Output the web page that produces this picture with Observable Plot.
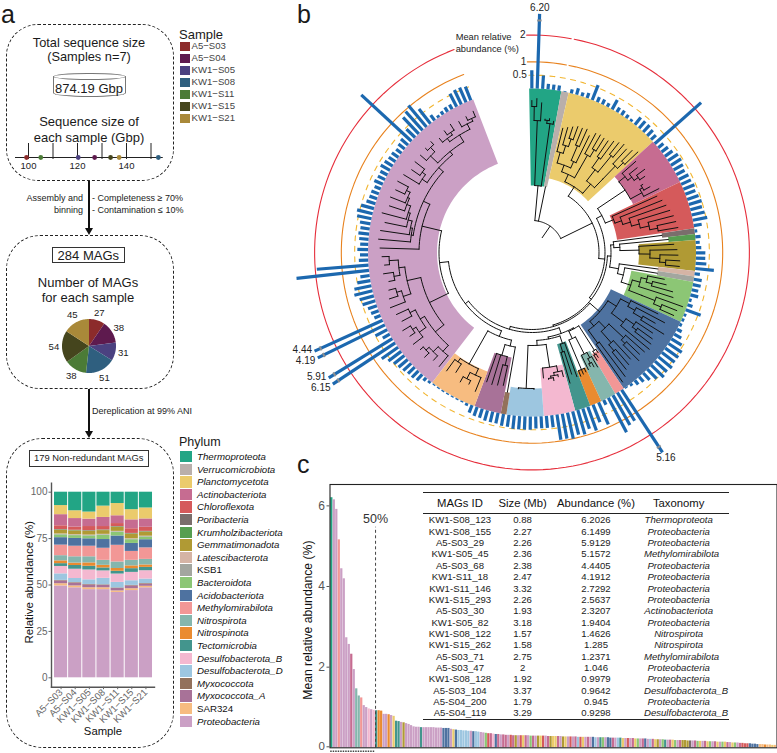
<!DOCTYPE html>
<html>
<head>
<meta charset="utf-8">
<script src="https://cdn.jsdelivr.net/npm/d3@7"></script>
<script src="https://cdn.jsdelivr.net/npm/@observablehq/plot@0.6"></script>
<style>
html,body{margin:0;padding:0;background:#fff}
#page{position:relative;width:777px;height:753px;overflow:hidden;font-family:"Liberation Sans",Arial,sans-serif;color:#1a1a1a}
.t{position:absolute;white-space:nowrap;line-height:1}
.box{position:absolute;box-sizing:border-box;border:1px dashed #222}
.sq{position:absolute}
#tbl{position:absolute;left:422.7px;top:491.7px;width:306.3px;border-collapse:collapse;table-layout:fixed;border-top:1.2px solid #222;border-bottom:1.2px solid #222;font-size:9.6px;color:#222}
#tbl th{font-weight:normal;font-size:11.3px;height:20.5px;padding:0;border-bottom:1.2px solid #222;text-align:center;color:#111}
#tbl td{height:11.36px;padding:0;text-align:center;line-height:11px}
#tbl td:nth-child(4){font-style:italic}
#tbl th:nth-child(4),#tbl td:nth-child(4){padding-right:15.6px}
</style>
</head>
<body>
<div id="page"></div>
<script>
// ---------- shared categories ----------
const samples = ["A5−S03","A5−S04","KW1−S05","KW1−S08","KW1−S11","KW1−S15","KW1−S21"];
const sampleColors = ["#8C2B2B","#5E1A4E","#4B4180","#2F5F7F","#4B7B36","#45451D","#A98939"];
const phyla = ["Thermoproteota","Verrucomicrobiota","Planctomycetota","Actinobacteriota","Chloroflexota","Poribacteria","Krumholzibacteriota","Gemmatimonadota","Latescibacterota","KSB1","Bacteroidota","Acidobacteriota","Methylomirabilota","Nitrospirota","Nitrospinota","Tectomicrobia","Desulfobacterota_B","Desulfobacterota_D","Myxococcota","Myxococcota_A","SAR324","Proteobacteria"];
const phylumCodes = ["Th","Ve","Pl","Ac","Ch","Po","Kr","Ge","La","KS","Ba","Ai","Me","Ns","Ni","Te","DB","DD","My","MA","SA","Pr"];
const phylumColors = ["#22A585","#B9AFAB","#EBCB6C","#C66C91","#D55A5B","#7A6E6C","#569E50","#B09A34","#D5B4A5","#A3A69F","#8CC675","#4E72A0","#F29796","#85B6AD","#EA8B30","#43958D","#F4B8D0","#9DC6E0","#93715B","#A87298","#F7BC80","#CBA0C5"];

// ---------- panel a ----------
const sequenceSize = [99.2,127,120.3,153,105,133.5,137];
const magCounts = [27,38,31,51,38,54,45];
const stackTh = [7.2,10,10.7,7.5,6.1,9.4,8.5];
const stackVe = [0,0,0,0,0,0,0];
const stackPl = [4.9,4.2,3.8,6.1,6.6,5.5,5.9];
const stackAc = [6,4.6,4,4.9,4.2,4.8,4.5];
const stackCh = [2,1.7,2.2,1.8,1.6,2.5,2.2];
const stackPo = [.2,.2,.2,.2,.2,.2,.2];
const stackKr = [.2,.2,.2,.2,.2,.2,.2];
const stackGe = [2,2,2,2,2.2,2.5,2.2];
const stackLa = [.2,.2,.2,.2,.2,.2,.2];
const stackKS = [.3,.3,.3,.3,.3,.3,.3];
const stackBa = [1.5,1.5,1.5,2.3,2,2,1.4];
const stackAi = [4,4.2,4,4.7,5,4.3,4.4];
const stackMe = [5.7,5.7,5.7,6.5,9,4.8,6.2];
const stackNs = [2.8,3.4,3.3,2.7,3.5,3,3];
const stackNi = [1.5,1.3,1.8,1.4,1.5,1.5,1.3];
const stackTe = [1.5,2,2,1.6,1.5,2,1.8];
const stackDB = [4,5,5.3,4,4.5,4.5,4.5];
const stackDD = [3.5,2.2,2.5,3.5,3,2.5,2.4];
const stackMy = [.3,.3,.3,.3,.3,.3,.3];
const stackMA = [1.5,1.5,1.5,1.3,1.3,1.5,1.2];
const stackSA = [1.2,1,1,1,.8,1,.8];
const stackPr = [49.5,48.5,47.5,47.5,46,47,48.5];
const stackRows = [stackTh,stackVe,stackPl,stackAc,stackCh,stackPo,stackKr,stackGe,stackLa,stackKS,stackBa,stackAi,stackMe,stackNs,stackNi,stackTe,stackDB,stackDD,stackMy,stackMA,stackSA,stackPr];

// ---------- panel b: clades in clockwise order ----------
const cladeStart = [-1,10.3,12.9,47.5,64.5,81.5,83.5,85.6,96.5,98.4,100.4,115,146,149.5,155,159.2,164.7,175.9,189,191,200.5,217.5];
const cladeEnd   = [10.3,12.9,47.5,64.5,81.5,83.5,85.6,96.5,98.4,100.4,115,146,149.5,155,159.2,164.7,175.9,189,191,200.5,217.5,339];
const cladeInner = [67,67,76,112,86,131,137,107,127,127,101,87,118,114,127,95,116,136,142,107,127,95];
const cladeBars = [
 [.68,6.2,.5,.2,.2,.2],
 [.03],
 [.15,.25,.15,.2,.6,.2,.2,.15,.4,.2,.2,.15,.1,.35,.35,.35,.3,.25],
 [2.32,.25,.3,.35,.45,.45,.4,.35,.4],
 [.4,.45,.4,.45,.5,.45,.5,.55,.3],
 [.1],
 [.2],
 [.15,.2,.35,.35,.4,.7],
 [.2],
 [.3],
 [.3,.25,.3,.1,.2,.6,.1,.1],
 [.1,.2,.3,.45,.6,.6,.6,.65,.6,.65,.5,.35,.25,.2,.1,.05],
 [5.16,1.24],
 [1.285,1.46,.2],
 [.9,.7],
 [.95,.8,.95],
 [.9,1,.95,.95,.45,.45],
 [.45,.45,.5,.5,.5,.5,.45],
 [.45],
 [.4,.4,.4,.35,.35],
 [.3,.1,.05,.05,.05,.05,.05,.05,.05],
 [.1,.15,.3,.35,.35,.4,.45,.5,.6,.75,6.15,5.91,.3,.5,4.19,4.44,.25,.3,.35,.5,.55,.7,.65,.5,.35,2.73,1.94,.35,.3,.4,.3,.35,.4,.35,.4,.55,.6,.5,.35,.3,.3,.25,.35,.3,.3,.4,.35,.3,.3,.25,.3,.35,2.56,.45,.85,.95,1.05,.7,.25,.1,.15,.2,.2,.55,.6,.6,.55]
];
const ringValues = [0.5,1,2];
const ringColors = ["#F2B632","#E8821E","#E62E3B"];
// tree: [node radius, ...children]; a plain number is a tip radius
const treeTh = [67,[132,[146,152,154],150],[130,[133,134,135],133]];
const treeVe = 67;
const treePl = [78,[86,[93,[104,128,[112,130,[120,132,134]]],[100,[116,134,135],130]],[96,[112,135,[120,136,135]]]],[90,[104,[116,135,138],[125,140,142]],[102,[120,140,[128,143,146]]]]];
const treeAc = [112,[120,138,[125,135,[130,140,136]]],[125,[128,130,135],142]];
const treeCh = [88,137,[95,140,[103,142,[111,144,[120,146,[128,147,148]]]]]];
const treePo = 131;
const treeKr = 137;
const treeGe = [107,142,[118,145,[128,146,[134,148,148]]]];
const treeLa = 127;
const treeKS = 127;
const treeBa = [104,[112,[118,135,[124,138,146]],148],[118,[132,160,[140,156,155]]]];
const treeAi = [90,[100,[110,140,[118,150,[128,142,155]]],[115,[125,145,[130,148,150]],152]],[96,[105,[125,150,[130,148,152]],[120,145,[128,148,150]]],[112,155,158]]];
const treeMe = [116,120,[120,124,126]];
const treeNs = [114,[120,132,[125,130,128]],130];
const treeNi = [127,131,132,133];
const treeTe = [96,132,[104,128,136]];
const treeDB = [116,[122,128,[125,127,[127,130,128]]],126];
const treeDD = [136,137,137];
const treeMy = 142;
const treeMA = [107,[116,136,137],138,137];
const treeSA = [128,[135,150,[142,146,148]],[132,142,146]];
const treePr = [93,
  [114,[125,[133,147,[140,146,[144,150,148]]],[130,[138,150,[142,148,151]],[136,147,149]]],[128,[136,152,[141,150,148]],[134,[140,146,150],[143,148,150]]]],
  [113,152,[120,[122,154,[124,153,[128,150,[130,155,[134,150,[136,152,[140,150,152]]]]]]],[126,[132,150,[136,146,148]],[130,[140,148,[146,149,150]],[138,[142,147,[145,150,152]],[144,150,[147,151,153]]]]]]]];
const cladeTrees = [treeTh,treeVe,treePl,treeAc,treeCh,treePo,treeKr,treeGe,treeLa,treeKS,treeBa,treeAi,treeMe,treeNs,treeNi,treeTe,treeDB,treeDD,treeMy,treeMA,treeSA,treePr];
const backbone = [32,"Th","Ve",[67,"Pl",[73,[79,"Ac","Ch"],[75.5,[79,[82,"Po",[88,"Kr","Ge"]],[88,"La",[94,"KS","Ba"]]],[77,"Ai",[80,[86,[87,"Me",[95,"Ns","Ni"]],[88,"Te",[93,"DB","DD"]]],[84,[90,[96,"My","MA"],"SA"],"Pr"]]]]]]];

// ---------- panel c ----------
const meanAbundance = [6.2026,6.1499,5.9129,5.1572,4.4405,4.1912,2.7292,2.5637,2.3207,1.9404,1.4626,1.285,1.2371,1.046,.9979,.9642,.945,.9298,
 .92,.92,.91,.83,.83,.82,.8,.78,.66,.65,.63,.62,.6,.58,.55,.52,.51,.51,.5,.5,.5,.5,.5,.5,.49,.49,.49,
 .48,.48,.48,.46,.45,.44,.43,.43,.42,.42,.41,.41,.4,.4,.39,.38,.37,.36,.35,.35,
 .34,.33,.33,.32,.32,.31,.31,.31,.3,.3,.3,.3,.3,.3,.3,.29,.29,.29,.29,.29,
 .29,.29,.28,.28,.28,.28,.28,.28,.27,.27,.27,.27,.27,.27,.26,.26,.26,.26,.26,.26,
 .26,.25,.25,.25,.25,.25,.25,.24,.24,.24,.24,.24,.23,.23,.23,.23,.23,.22,.22,.22,
 .22,.22,.21,.21,.21,.2,.2,.2,.2,.19,.19,.19,.19,.18,.18,.18,.18,.18,.17,.17,
 .17,.17,.16,.16,.16,.16,.15,.15,.15,.15,.14,.14,.14,.14,.13,.13,.12,.12,.12,.11,
 .11,.1,.1,.1,.09,.09,.08,.08,.08,.07,.07,.07,.06,.06];
const meanPhylum = ("Th Pr Pr Me Pr Pr Pr Pr Ac Pr Ns Ns Me Pr Pr DB Pr DB Te Ni "+
 "Ni Pr Pr Ni Pr Pl Te Te Pr Ge Pr Pr Pr Pr Pr Pr Te Pr Pr Pr "+
 "Pr Pr Pr Pr Pr Ai Ai Ai Pr Pl Ai DD DD DD DD DD Pr Ai DD DD "+
 "Pr Pr Ba Ch Ac DB Ai Ac Pr Ac Ac Pr Ch Ac Ge Pr Ch Pl Ac Pr "+
 "Ba Ac Pr Ge Pl Ch Pr Ac Ge Pl Pl Ac Pr Ge Pl Pr Ch Pr Ac DD "+
 "Ch Pl Pr Ac Pr Ai DD Pr Te Ba Pr Ai Ai Ac Pr DD Te Pl Pr Ch "+
 "Pr Ac Pl Ba Pr Ac Ai Pr DD Ac Pl Ge Pr Ba Te Pr Ac Pl Ba Pr "+
 "Ac Ge Ge Ge Po Pr Ac Ba Pl Pr Ac Pl Ba Pr Ac Pl Pr Ba Pl Ac "+
 "Pr Pl Ba Pr Ac Ch Ch Ch Ai Ai Ai Ai SA SA Ni SA SA Pl SA").split(" ");
const tableHeader = ["MAGs ID","Size (Mb)","Abundance (%)","Taxonomy"];
const tableIds = ["KW1-S08_123","KW1-S08_155","A5-S03_29","KW1-S05_45","A5-S03_68","KW1-S11_18","KW1-S11_146","KW1-S15_293","A5-S03_30","KW1-S05_82","KW1-S08_122","KW1-S15_262","A5-S03_71","A5-S03_47","KW1-S08_128","A5-S03_104","A5-S04_200","A5-S04_119"];
const tableSizes = ["0.88","2.27","2.26","2.36","2.38","2.47","3.32","2.26","1.93","3.18","1.57","1.58","2.75","2","1.92","3.37","1.79","3.29"];
const tableAbund = ["6.2026","6.1499","5.9129","5.1572","4.4405","4.1912","2.7292","2.5637","2.3207","1.9404","1.4626","1.285","1.2371","1.046","0.9979","0.9642","0.945","0.9298"];
const tableTaxa = ["Thermoproteota","Proteobacteria","Proteobacteria","Methylomirabilota","Proteobacteria","Proteobacteria","Proteobacteria","Proteobacteria","Actinobacteriota","Proteobacteria","Nitrospirota","Nitrospirota","Methylomirabilota","Proteobacteria","Proteobacteria","Desulfobacterota_B","Proteobacteria","Desulfobacterota_B"];

// ---------- helpers ----------
const page = document.getElementById("page");
const FONT = '"Liberation Sans",Arial,sans-serif';
const baseStyle = {fontFamily:FONT,background:"transparent",overflow:"visible"};
function place(el,left,top){el.style.position="absolute";el.style.left=left+"px";el.style.top=top+"px";el.style.maxWidth="none";page.appendChild(el);return el;}
function label(text,x,y,o={}){
  const d=document.createElement("div");d.className="t";d.textContent=text;
  d.style.left=x+"px";d.style.top=y+"px";
  d.style.fontSize=(o.size||13)+"px";
  if(o.color)d.style.color=o.color;
  if(o.italic)d.style.fontStyle="italic";
  const tx=o.anchor==="middle"?"-50%":o.anchor==="end"?"-100%":"0";
  d.style.transform=`translate(${tx},-50%)`;
  page.appendChild(d);return d;
}
function dashedBox(x,y,w,h,r){const d=document.createElement("div");d.className="box";Object.assign(d.style,{left:x+"px",top:y+"px",width:w+"px",height:h+"px",borderRadius:r+"px"});page.appendChild(d);}
function solidBox(x,y,w,h){const d=document.createElement("div");d.className="sq";Object.assign(d.style,{left:x+"px",top:y+"px",width:w+"px",height:h+"px",border:"1px solid #333",boxSizing:"border-box"});page.appendChild(d);}
function swatch(x,y,w,h,c){const d=document.createElement("div");d.className="sq";Object.assign(d.style,{left:x+"px",top:y+"px",width:w+"px",height:h+"px",background:c});page.appendChild(d);}
function arrow(x,y0,y1){
  const l=document.createElement("div");l.className="sq";Object.assign(l.style,{left:(x-.75)+"px",top:y0+"px",width:"1.5px",height:(y1-y0-5)+"px",background:"#111"});page.appendChild(l);
  const h=document.createElement("div");h.className="sq";Object.assign(h.style,{left:(x-4)+"px",top:(y1-7)+"px",width:0,height:0,borderLeft:"4px solid transparent",borderRight:"4px solid transparent",borderTop:"7px solid #111"});page.appendChild(h);
}
const rad=d=>d*Math.PI/180;
const polar=(deg,r)=>({x:r*Math.sin(rad(deg)),y:r*Math.cos(rad(deg))});
function arcPts(r,a,b){const n=Math.max(1,Math.ceil(Math.abs(b-a)/2));return d3.range(n+1).map(i=>polar(a+(b-a)*i/n,r));}

// ---------- panel letters ----------
label("a",1,13.5,{size:25});
label("b",297,13.5,{size:25});
label("c",297,464,{size:25});

// ---------- panel a: frames, text ----------
dashedBox(5.5,24,168,157,32);
dashedBox(5.5,235,168,154,34);
dashedBox(5.5,438,168,310,36);
arrow(89,181,235);
arrow(89,389,438);
label("Total sequence size",89,42.5,{anchor:"middle",size:12.8});
label("(Samples n=7)",89,56.5,{anchor:"middle",size:12.8});
// cylinder
{const b=document.createElement("div");b.className="sq";Object.assign(b.style,{left:"53px",top:"76px",width:"73px",height:"21px",boxSizing:"border-box",border:"1px solid #777",borderTop:"none",borderRadius:"0 0 50% 50% / 0 0 4px 4px"});page.appendChild(b);
 const e=document.createElement("div");e.className="sq";Object.assign(e.style,{left:"53px",top:"72.5px",width:"73px",height:"7.5px",boxSizing:"border-box",border:"1px solid #777",borderRadius:"50%",background:"#fff"});page.appendChild(e);}
label("874.19 Gbp",89,87.5,{anchor:"middle"});
label("Sequence size of",89,121,{anchor:"middle"});
label("each sample (Gbp)",89,137,{anchor:"middle"});
label("Sample",179,33.5,{size:13});
samples.forEach((s,i)=>{swatch(180,41.5+12*i,9.5,9.5,sampleColors[i]);label(s,191.5,46.3+12*i,{size:9.6,color:"#444"});});
label("Assembly and",83,198,{size:9,anchor:"end",color:"#222"});
label("binning",83,210,{size:9,anchor:"end",color:"#222"});
label("- Completeness ≥ 70%",92,198,{size:9,color:"#222"});
label("- Contamination ≤ 10%",92,210,{size:9,color:"#222"});
solidBox(52,246.5,72.5,16.5);
label("284 MAGs",88.3,255,{anchor:"middle"});
label("Number of MAGs",88,281.7,{anchor:"middle"});
label("for each sample",88,297,{anchor:"middle"});
label("Dereplication at 99% ANI",92,410.7,{size:9,color:"#222"});
solidBox(29,450,119.5,16.5);
label("179 Non-redundant MAGs",88.7,458.3,{size:9.4,anchor:"middle"});
label("Phylum",179,442,{size:12.5});
phyla.forEach((p,i)=>{swatch(180,451+12.6*i,12,11.4,phylumColors[i]);
  label(p,197,456.9+12.6*i,{size:9.7,italic:p!=="KSB1"&&p!=="SAR324",color:"#111"});});

// sequence size strip
place(Plot.plot({
  width:170,height:30,marginLeft:0,marginRight:0,marginTop:0,marginBottom:16,style:baseStyle,
  x:{domain:[100,140],range:[28,126]},
  y:{domain:[0,1],axis:null},
  color:{domain:samples,range:sampleColors},
  marks:[
    Plot.ruleY([0],{x1:94.7,x2:155,stroke:"#222",strokeWidth:1}),
    Plot.axisX({ticks:[100,120,140],tickSize:0,tickPadding:5,fontSize:9.5,label:null,color:"#222"}),
    Plot.tickX([100,110,120,130,140,150],{x:d=>d,y1:0,y2:0,stroke:"#222",insetTop:0,insetBottom:-2}),
    Plot.dot(samples.map((s,i)=>({s,v:sequenceSize[i]})),{x:"v",y:()=>0,fill:"s",r:2.4})
  ]
}),0,142.5);

// pie of MAG counts
{
  const total=d3.sum(magCounts);let acc=0;
  const slices=samples.map((s,i)=>{const a=acc/total*360,b=(acc+magCounts[i])/total*360;acc+=magCounts[i];return {s,a,b,n:magCounts[i]};});
  const pts=slices.flatMap(d=>[{x:0,y:0,s:d.s},...arcPts(1,d.a,d.b).map(p=>({...p,s:d.s}))]);
  const labs=slices.map(d=>({...polar((d.a+d.b)/2,1.3),n:d.n}));
  place(Plot.plot({
    width:81,height:81,margin:0,style:baseStyle,
    x:{domain:[-1.5,1.5],axis:null},y:{domain:[-1.5,1.5],axis:null},
    color:{domain:samples,range:sampleColors},
    marks:[
      Plot.line(pts,{x:"x",y:"y",z:"s",fill:"s",stroke:"none"}),
      Plot.text(labs,{x:"x",y:"y",text:"n",fontSize:9.6,fill:"#222"})
    ]
  }),47.8,304.5);
}

// stacked composition
{
  const rows=[];
  for(let p=phyla.length-1;p>=0;p--) samples.forEach((s,i)=>rows.push({sample:s,phylum:phyla[p],v:stackRows[p][i]}));
  place(Plot.plot({
    width:155,height:262,marginLeft:51,marginRight:1,marginTop:2.7,marginBottom:55.3,style:baseStyle,
    x:{domain:samples,range:[53,153],padding:.07,round:false,axis:null},
    y:{domain:[-5.06,104.85],axis:null},
    color:{domain:phyla,range:phylumColors},
    marks:[
      Plot.barY(rows,{x:"sample",y:"v",fill:"phylum"}),
      Plot.frame({anchor:"left",stroke:"#555",strokeWidth:1.4}),
      Plot.frame({anchor:"bottom",stroke:"#555",strokeWidth:1.4}),
      Plot.axisY({ticks:[0,25,50,75,100],tickSize:2.5,tickPadding:1.5,fontSize:10,label:null,color:"#666"}),
      Plot.axisX({tickSize:2.5,tickPadding:1,tickRotate:-45,fontSize:9.6,label:null,color:"#666",textAnchor:"end"}),
      Plot.text(["Relative abundance (%)"],{frameAnchor:"left",textAnchor:"middle",rotate:-90,dx:-22,dy:-3,fontSize:11.5,fill:"#111"}),
      Plot.text(["Sample"],{frameAnchor:"bottom",textAnchor:"middle",dy:48,fontSize:11.3,fill:"#111"})
    ]
  }),0,480);
}

// ---------- panel b: circular tree ----------
{
  const R0=164, UNIT=26.7, CAP=2.8, BREAK=2.55;
  const labelNudge={"4.44":2,"4.19":-2,"5.91":2,"6.15":-2};
  const wedges=phyla.flatMap((p,i)=>[...arcPts(cladeInner[i],cladeStart[i],cladeEnd[i]),...arcPts(R0,cladeEnd[i],cladeStart[i])].map(q=>({...q,p})));
  const bars=phyla.flatMap((p,i)=>{const n=cladeBars[i].length,st=(cladeEnd[i]-cladeStart[i])/n;
    return cladeBars[i].map((v,j)=>({v,deg:cladeStart[i]+st*(j+.5)}));});
  const barSeg=bars.map(b=>{const a=polar(b.deg,R0),c=polar(b.deg,R0+Math.min(b.v,CAP)*UNIT);return {x1:a.x,y1:a.y,x2:c.x,y2:c.y};});
  const big=bars.filter(b=>b.v>CAP);
  const breaks=big.map(b=>{const a=polar(b.deg-.55,R0+BREAK*UNIT),c=polar(b.deg+.55,R0+BREAK*UNIT);return {x1:a.x,y1:a.y,x2:c.x,y2:c.y};});
  const bigLabs=big.map(b=>{const left=b.deg>200;const t=b.v.toFixed(2);const q=polar(b.deg,left?241.5:245);return {x:q.x,y:q.y+(labelNudge[t]||0),t,left};});
  // tree layout
  const segs=[];let sid=0;
  const addArc=(r,a,b)=>{const id=sid++;arcPts(r,a,b).forEach(q=>segs.push({...q,id}));};
  const addRad=(deg,r0,r1)=>{const id=sid++;[polar(deg,r0),polar(deg,r1)].forEach(q=>segs.push({...q,id}));};
  const countTips=s=>typeof s==="number"?1:d3.sum(s.slice(1),countTips);
  function layoutClade(spec,tips){
    if(typeof spec==="number") return {r:spec,deg:tips.shift(),kids:[]};
    const kids=spec.slice(1).map(c=>layoutClade(c,tips));
    return {r:spec[0],deg:(kids[0].deg+kids[kids.length-1].deg)/2,kids};
  }
  function layoutBack(spec){
    if(typeof spec==="string"){
      const i=phylumCodes.indexOf(spec),t=cladeTrees[i],n=countTips(t),st=(cladeEnd[i]-cladeStart[i])/n;
      return layoutClade(t,d3.range(n).map(k=>cladeStart[i]+st*(k+.5)));
    }
    const kids=spec.slice(1).map(layoutBack);
    return {r:spec[0],deg:(kids[0].deg+kids[kids.length-1].deg)/2,kids};
  }
  function emit(node,parentR){
    addRad(node.deg,parentR,node.r);
    if(node.kids.length){addArc(node.r,node.kids[0].deg,node.kids[node.kids.length-1].deg);node.kids.forEach(k=>emit(k,node.r));}
  }
  emit(layoutBack(backbone),18);
  const rings=ringValues.flatMap((v,i)=>{const r=R0+v*UNIT;
    const parts=v===0.5?[[-1,339]]:[[-1.4,10.4],[11.2,339]];
    return parts.flatMap((pp,k)=>arcPts(r,pp[0],pp[1]).map(q=>({...q,key:v+"-"+k,v})));});
  const ringLabs=ringValues.map(v=>({...polar(-1.7,R0+v*UNIT),t:String(v)}));
  place(Plot.plot({
    width:487,height:470,margin:0,style:baseStyle,
    x:{domain:[-241.5,245.5],range:[0,487],axis:null},
    y:{domain:[252,-218],range:[0,470],axis:null},
    color:{domain:phyla,range:phylumColors},
    marks:[
      Plot.line(wedges,{x:"x",y:"y",z:"p",fill:"p",stroke:"none"}),
      Plot.line(segs,{x:"x",y:"y",z:"id",stroke:"#111",strokeWidth:1,strokeLinejoin:"round"}),
      Plot.line(rings.filter(d=>d.v===2),{x:"x",y:"y",z:"key",stroke:ringColors[2],strokeWidth:1.1}),
      Plot.line(rings.filter(d=>d.v===1),{x:"x",y:"y",z:"key",stroke:ringColors[1],strokeWidth:1.1}),
      Plot.line(rings.filter(d=>d.v===.5),{x:"x",y:"y",z:"key",stroke:ringColors[0],strokeWidth:1.1,strokeDasharray:"5,5.5"}),
      Plot.link(barSeg,{x1:"x1",y1:"y1",x2:"x2",y2:"y2",stroke:"#1C68AF",strokeWidth:3.2}),
      Plot.link(breaks,{x1:"x1",y1:"y1",x2:"x2",y2:"y2",stroke:"#8a8f94",strokeWidth:2}),
      Plot.text(ringLabs,{x:"x",y:"y",text:"t",textAnchor:"end",fontSize:10,fill:"#222"}),
      Plot.text(bigLabs.filter(d=>d.left),{x:"x",y:"y",text:"t",textAnchor:"end",fontSize:10,fill:"#222"}),
      Plot.text(bigLabs.filter(d=>!d.left),{x:"x",y:"y",text:"t",fontSize:10,fill:"#222"})
    ]
  }),290,0);
  label("Mean relative",455.7,38,{size:9.3,color:"#222"});
  label("abundance (%)",455.7,50,{size:9.3,color:"#222"});
}

// ---------- panel c ----------
{
  const bars=meanAbundance.map((v,i)=>({i,i1:i+1,v,p:phyla[phylumCodes.indexOf(meanPhylum[i])]}));
  const TOP18=18;
  place(Plot.plot({
    width:487,height:275,marginLeft:39.5,marginRight:.5,marginTop:6,marginBottom:5.7,style:baseStyle,
    x:{domain:[0,meanAbundance.length],range:[40.2,486.2],axis:null},
    y:{domain:[0,6.53],axis:null},
    color:{domain:phyla,range:phylumColors},
    marks:[
      Plot.rectY(bars,{x1:"i",x2:"i1",y:"v",fill:"p",insetRight:.25}),
      Plot.ruleX([TOP18],{y1:0,y2:5.47,stroke:"#444",strokeWidth:1,strokeDasharray:"3,2.5"}),
      Plot.ruleY([0],{x1:0,x2:TOP18,dy:3.5,stroke:"#444",strokeWidth:1.4,strokeDasharray:"1.5,1"}),
      Plot.frame({stroke:"#222",strokeWidth:1.1}),
      Plot.axisY({ticks:[2,4,6],tickFormat:d=>String(d),tickSize:3,tickPadding:2,fontSize:12,label:null,color:"#555"}),
      Plot.axisY({ticks:[0],tickFormat:d=>String(d),tickSize:3,tickPadding:2,fontSize:11.5,label:null,color:"#555",dy:-1}),
      Plot.text(["50%"],{x:()=>TOP18,y:()=>5.67,fontSize:12.5,fill:"#333"}),
      Plot.text(["Mean relative abundance (%)"],{frameAnchor:"left",textAnchor:"middle",rotate:-90,dx:-22,dy:4,fontSize:12.2,fill:"#111"})
    ]
  }),290,478);
  const tbl=document.createElement("table");tbl.id="tbl";
  const cg=document.createElement("colgroup");[74.6,50.7,96,85].forEach(w=>{const c=document.createElement("col");c.style.width=w+"px";cg.appendChild(c);});tbl.appendChild(cg);
  const tr=tbl.insertRow();tableHeader.forEach(h=>{const t=document.createElement("th");t.textContent=h;tr.appendChild(t);});
  tableIds.forEach((id,i)=>{const r=tbl.insertRow();[id,tableSizes[i],tableAbund[i],tableTaxa[i]].forEach(v=>{r.insertCell().textContent=v;});});
  page.appendChild(tbl);
}
</script>
</body>
</html>
